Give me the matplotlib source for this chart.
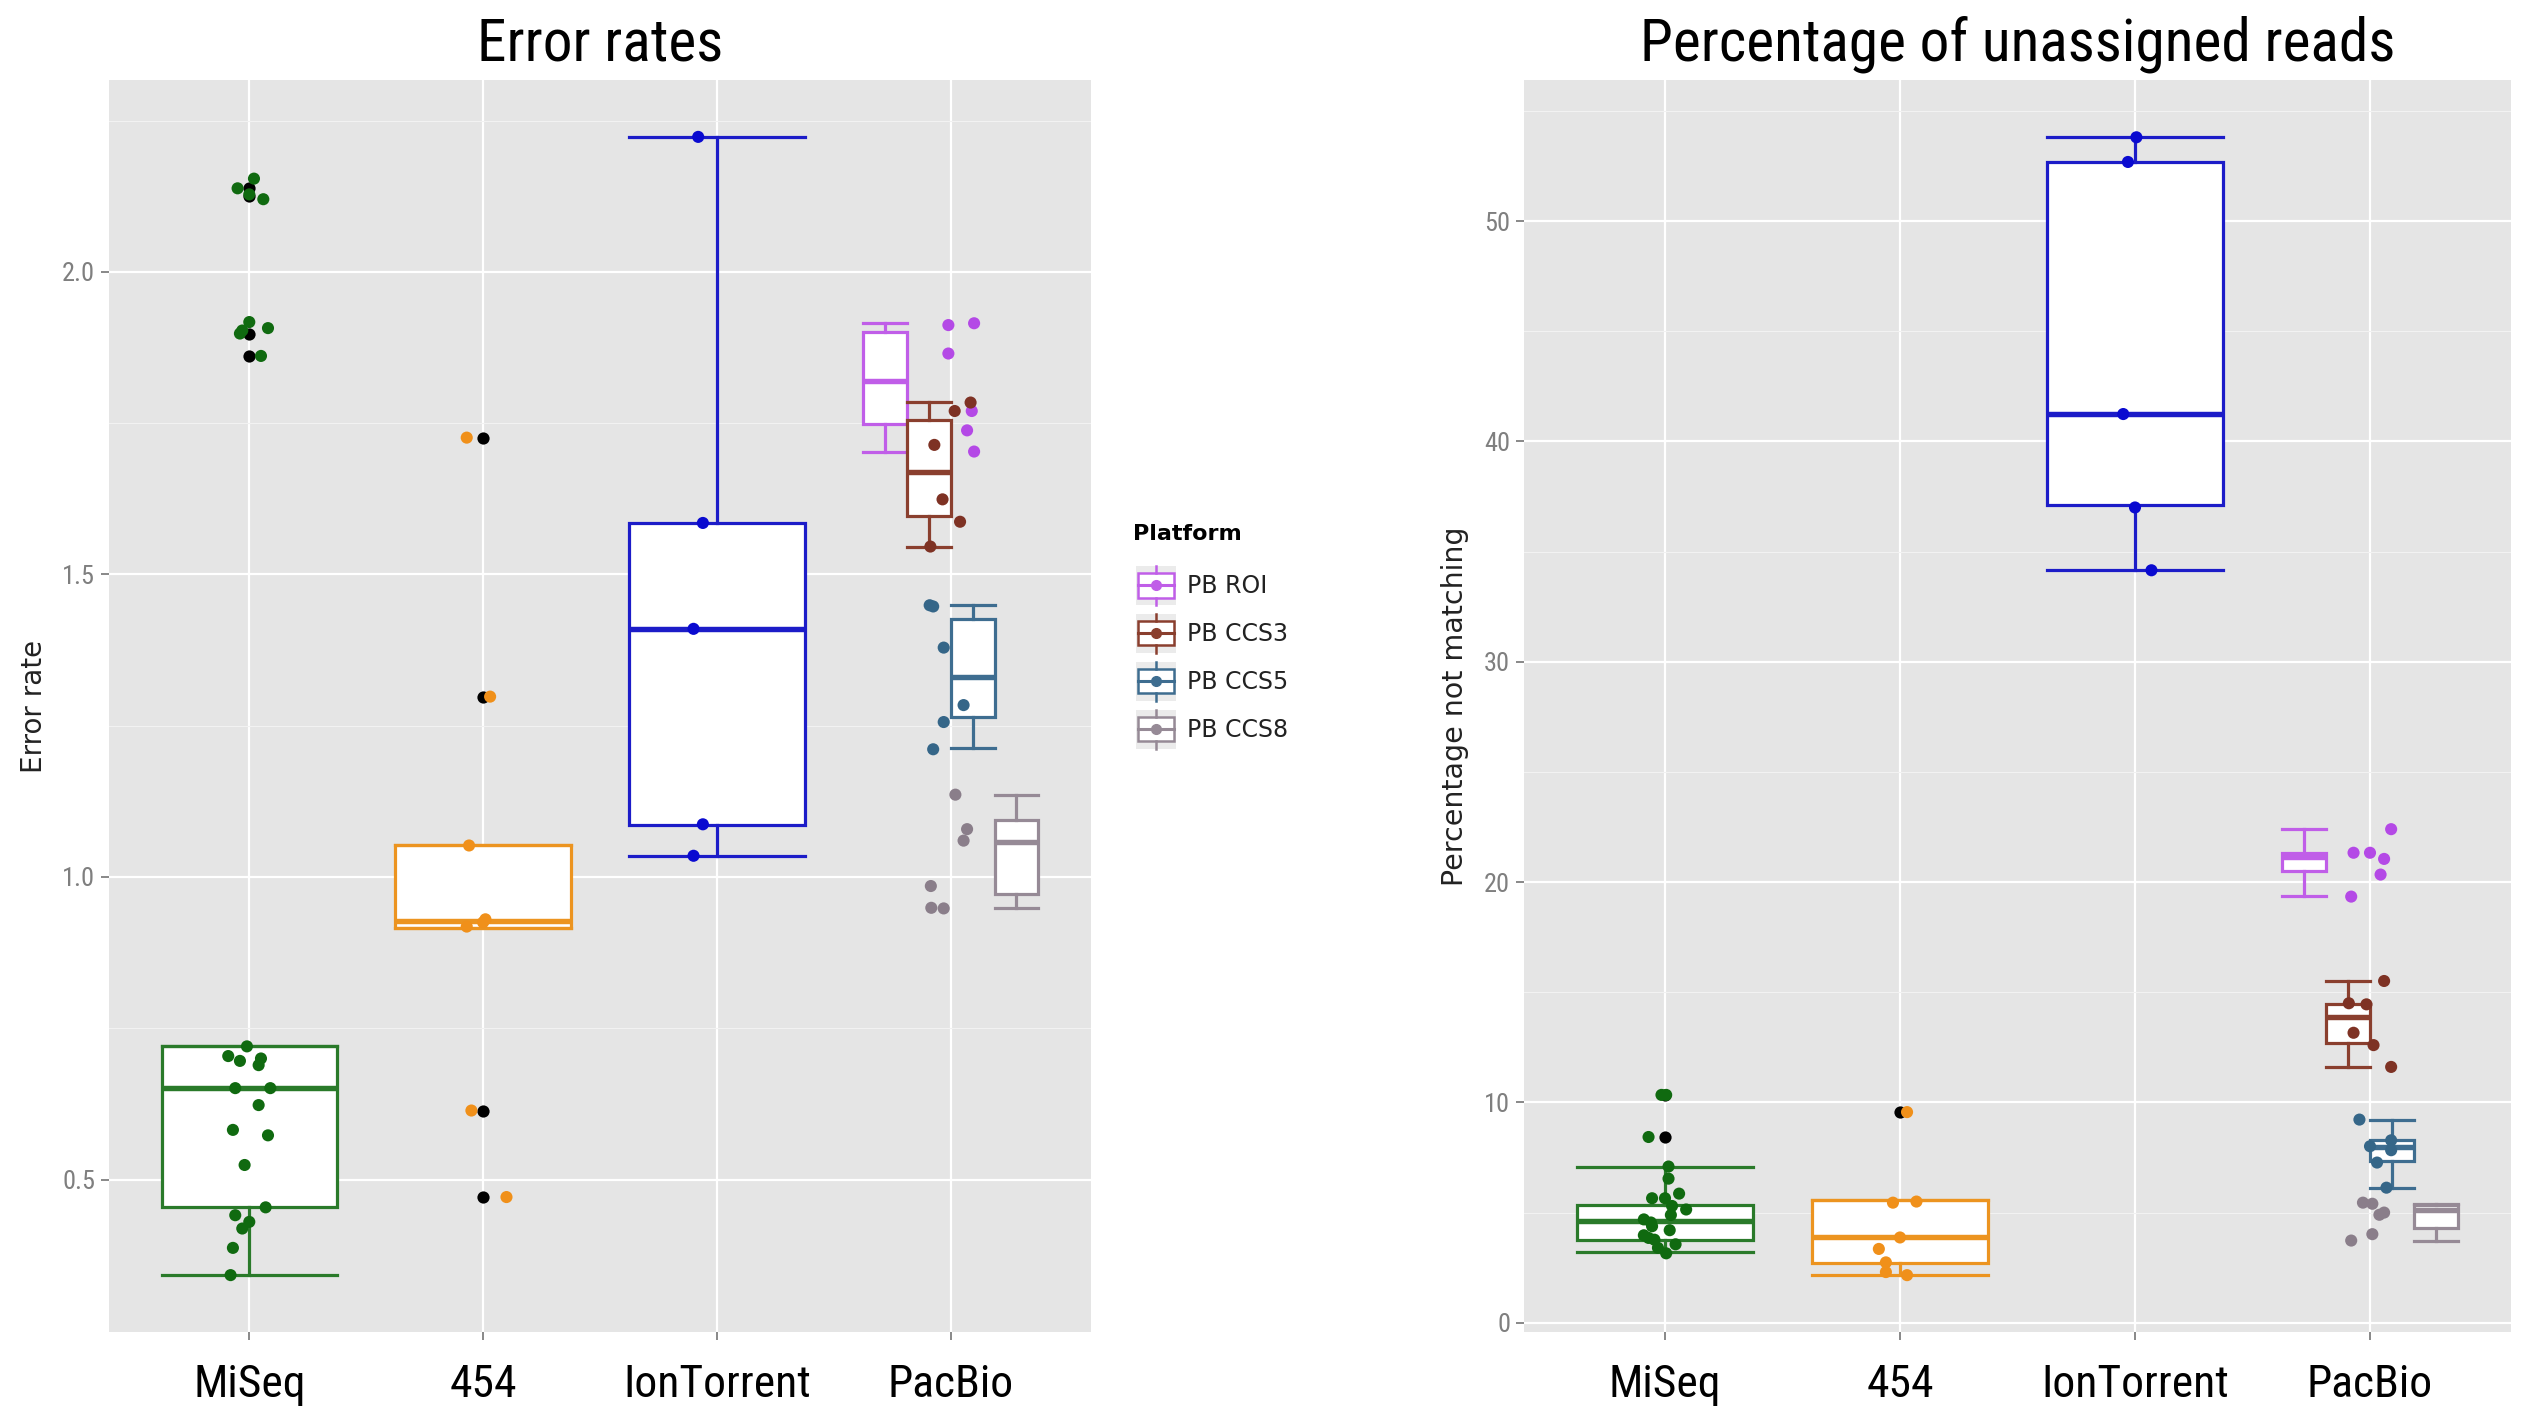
import numpy as np
import matplotlib.pyplot as plt
from matplotlib import font_manager as fm
from matplotlib.patches import Rectangle, Patch
from matplotlib.lines import Line2D
from matplotlib.legend_handler import HandlerBase

categories = ['MiSeq', '454', 'IonTorrent', 'PacBio']
pb_labels = ['PB ROI', 'PB CCS3', 'PB CCS5', 'PB CCS8']

# box stats: whisker low, q1, median, q3, whisker high
err_miseq_box = [0.343, 0.455, 0.651, 0.720, 0.720]
err_454_box = [0.915, 0.915, 0.927, 1.052, 1.052]
err_ion_box = [1.035, 1.086, 1.410, 1.585, 2.223]
err_pb_box = [
    [1.703, 1.748, 1.820, 1.900, 1.916],
    [1.546, 1.597, 1.670, 1.755, 1.785],
    [1.213, 1.264, 1.331, 1.427, 1.449],
    [0.949, 0.972, 1.057, 1.094, 1.136],
]
err_miseq_out = [2.138, 2.125, 1.898, 1.861]
err_454_out = [1.726, 1.298, 0.614, 0.471]

# jittered points (value, horizontal jitter)
err_miseq_pts = [2.154, 2.138, 2.128, 2.120, 1.917, 1.907, 1.903, 1.898, 1.861,
                 0.720, 0.704, 0.696, 0.689, 0.700, 0.651, 0.651, 0.623, 0.582,
                 0.573, 0.524, 0.454, 0.441, 0.430, 0.419, 0.387, 0.342]
err_miseq_jit = [0.02, -0.05, 0.0, 0.06, 0.0, 0.08, -0.03, -0.04, 0.05,
                 -0.01, -0.09, -0.04, 0.04, 0.05, -0.06, 0.09, 0.04, -0.07,
                 0.08, -0.02, 0.07, -0.06, 0.0, -0.03, -0.07, -0.08]
err_454_pts = [1.726, 1.298, 1.052, 0.930, 0.925, 0.918, 0.614, 0.471]
err_454_jit = [-0.07, 0.03, -0.06, 0.01, 0.0, -0.07, -0.05, 0.10]
err_ion_pts = [2.223, 1.585, 1.410, 1.087, 1.035]
err_ion_jit = [-0.08, -0.06, -0.10, -0.06, -0.10]
err_pb_pts = [
    [1.912, 1.915, 1.865, 1.770, 1.738, 1.703],
    [1.784, 1.770, 1.714, 1.624, 1.587, 1.546],
    [1.449, 1.447, 1.379, 1.284, 1.256, 1.211],
    [1.136, 1.079, 1.060, 0.985, 0.949, 0.948],
]
err_pb_jit = [
    [-0.01, 0.10, -0.01, 0.09, 0.07, 0.10],
    [0.085, 0.017, -0.07, -0.035, 0.04, -0.087],
    [-0.09, -0.075, -0.03, 0.055, -0.03, -0.075],
    [0.02, 0.07, 0.055, -0.085, -0.083, -0.03],
]

pct_miseq_box = [3.21, 3.77, 4.63, 5.35, 7.09]
pct_454_box = [2.16, 2.69, 3.87, 5.55, 5.55]
pct_ion_box = [34.15, 37.09, 41.24, 52.68, 53.80]
pct_pb_box = [
    [19.38, 20.51, 21.13, 21.33, 22.40],
    [11.61, 12.70, 13.87, 14.45, 15.51],
    [6.13, 7.36, 7.98, 8.28, 9.21],
    [3.70, 4.28, 5.10, 5.35, 5.40],
]
pct_miseq_out = [10.34, 8.43]
pct_454_out = [9.56]

pct_miseq_pts = [10.34, 10.34, 8.43, 7.09, 6.54, 5.86, 5.65, 5.65, 5.30, 5.14, 4.89,
                 4.69, 4.55, 4.38, 4.20, 3.97, 3.85, 3.77, 3.56, 3.40, 3.15]
pct_miseq_jit = [-0.015, 0.005, -0.07, 0.015, 0.015, 0.06, -0.055, 0.0, 0.03, 0.09, 0.025,
                 -0.09, -0.06, -0.055, 0.02, -0.09, -0.07, -0.045, 0.045, -0.03, 0.005]
pct_454_pts = [9.56, 5.45, 5.50, 3.87, 3.35, 2.74, 2.30, 2.16]
pct_454_jit = [0.03, -0.03, 0.07, 0.0, -0.09, -0.06, -0.06, 0.03]
pct_ion_pts = [53.80, 52.68, 41.24, 37.00, 34.15]
pct_ion_jit = [0.006, -0.03, -0.05, 0.0, 0.07]
pct_pb_pts = [
    [22.40, 21.33, 21.33, 21.05, 20.34, 19.34],
    [15.51, 14.50, 14.45, 13.16, 12.60, 11.61],
    [9.22, 8.28, 8.01, 7.83, 7.27, 6.13],
    [5.45, 5.40, 5.00, 4.90, 4.02, 3.73],
]
pct_pb_jit = [
    [0.09, -0.07, 0.0, 0.06, 0.045, -0.08],
    [0.06, -0.09, -0.015, -0.07, 0.015, 0.09],
    [-0.045, 0.09, 0.0, 0.09, 0.03, 0.07],
    [-0.03, 0.01, 0.06, 0.04, 0.01, -0.08],
]

main_box_colors = ['#2a7a2a', '#ec9420', '#1c1cc8']
main_pt_colors = ['#106a10', '#f0901a', '#0a0ad0']
pb_box_colors = ['#c05ee8', '#8a3f2e', '#3e6d90', '#968a96']
pb_pt_colors = ['#b449e6', '#7e3224', '#356688', '#8a7e8a']


def pick_condensed():
    # the reference uses a condensed sans; take one if the system has it
    prefs = ['Liberation Sans Narrow', 'Roboto Condensed', 'Open Sans Condensed',
             'Noto Sans Condensed', 'DejaVu Sans Condensed', 'Arial Narrow']
    found = []
    for f in fm.fontManager.ttflist:
        if f.style != 'normal' or f.weight not in (400, 'normal', 'regular'):
            continue
        fn = f.fname.lower()
        if f.stretch in ('condensed', 'semi-condensed', 'extra-condensed') or \
                'narrow' in fn or 'condensed' in fn:
            found.append(f)
    for p in prefs:
        for f in found:
            if f.name == p or p.replace(' ', '').lower() in f.fname.lower().replace('-', ''):
                return fm.FontProperties(fname=f.fname)
    if found:
        return fm.FontProperties(fname=found[0].fname)
    return fm.FontProperties(family='DejaVu Sans')


def fitted(fig, fp, text, target_px):
    p = fp.copy()
    p.set_size(40)
    t = fig.text(0, 0, text, fontproperties=p)
    w = t.get_window_extent(fig.canvas.get_renderer()).width
    t.remove()
    p = fp.copy()
    p.set_size(40 * target_px / w)
    return p


def draw_box(ax, vals, pos, width, color, outliers=()):
    lo, q1, med, q3, hi = vals
    st = dict(whislo=lo, q1=q1, med=med, q3=q3, whishi=hi, fliers=list(outliers))
    ax.bxp([st], positions=[pos], widths=[width], capwidths=[width],
           patch_artist=True, manage_ticks=False, zorder=3,
           boxprops=dict(facecolor='white', edgecolor=color, linewidth=2.3),
           medianprops=dict(color=color, linewidth=3.9),
           whiskerprops=dict(color=color, linewidth=2.3),
           capprops=dict(color=color, linewidth=2.3),
           flierprops=dict(marker='o', markerfacecolor='black',
                           markeredgecolor='none', markersize=8.8))


def draw_panel(ax, main_box, main_out, main_pts, main_jit, pb_box, pb_pts, pb_jit):
    for i in range(3):
        draw_box(ax, main_box[i], i + 1, 0.75, main_box_colors[i], main_out[i])
    for i in range(3):
        ax.scatter(i + 1 + np.array(main_jit[i]), main_pts[i], s=76,
                   color=main_pt_colors[i], edgecolors='none', zorder=5)
    n = len(pb_box)
    w = 0.75 / n
    for j in range(n):
        pos = 4 - 0.375 + w * (j + 0.5)
        draw_box(ax, pb_box[j], pos, w, pb_box_colors[j])
    for j in range(n):
        ax.scatter(4 + np.array(pb_jit[j]), pb_pts[j], s=76,
                   color=pb_pt_colors[j], edgecolors='none', zorder=5)


def style_axes(ax, ylim, major, minor, fmt, xfp, yfp):
    ax.set_facecolor('#e5e5e5')
    ax.set_xlim(0.4, 4.6)
    ax.set_ylim(*ylim)
    ax.set_xticks(range(1, 5))
    ax.set_xticklabels(categories, fontproperties=xfp)
    ax.set_yticks(major)
    ax.set_yticklabels([fmt.format(v) for v in major], fontproperties=yfp,
                       color='#7f7f7f')
    ax.set_yticks(minor, minor=True)
    ax.grid(which='major', color='white', linewidth=1.6)
    ax.grid(which='minor', axis='y', color='#f2f2f2', linewidth=0.8)
    ax.set_axisbelow(True)
    for s in ax.spines.values():
        s.set_visible(False)
    ax.tick_params(axis='both', which='major', color='#7f7f7f', length=6, width=1.3)
    ax.tick_params(axis='y', which='minor', length=0)
    ax.tick_params(axis='y', pad=4)
    ax.tick_params(axis='x', pad=17)


class BoxKey(HandlerBase):
    def create_artists(self, legend, orig_handle, xdescent, ydescent,
                       width, height, fontsize, trans):
        c = orig_handle.get_edgecolor()
        x0, y0 = -xdescent, -ydescent
        xc, yc = x0 + width / 2, y0 + height / 2
        bg = Rectangle((x0, y0), width, height, facecolor='#ebebeb',
                       edgecolor='none', transform=trans)
        bx = Rectangle((x0 + width * 0.05, y0 + height * 0.19), width * 0.9,
                       height * 0.62, facecolor='white', edgecolor=c,
                       linewidth=1.8, transform=trans)
        med = Line2D([x0 + width * 0.05, x0 + width * 0.95], [yc, yc],
                     color=c, linewidth=2.2, transform=trans)
        w1 = Line2D([xc, xc], [y0, y0 + height * 0.19], color=c, linewidth=1.8, transform=trans)
        w2 = Line2D([xc, xc], [y0 + height * 0.81, y0 + height], color=c, linewidth=1.8, transform=trans)
        dot = Line2D([xc], [yc], marker='o', color=c, markersize=7, transform=trans)
        return [bg, bx, med, w1, w2, dot]


fig = plt.figure(figsize=(25.23, 14.10), dpi=100)
ax1 = fig.add_axes([109 / 2523, 78 / 1410, 982 / 2523, 1252 / 1410])
ax2 = fig.add_axes([1524 / 2523, 78 / 1410, 987 / 2523, 1252 / 1410])

cond = pick_condensed()
title_fp = fitted(fig, cond, 'Percentage of unassigned reads', 756)
xtick_fp = fitted(fig, cond, 'IonTorrent', 187)
ytick_fp = fitted(fig, cond, '2.0', 33)

draw_panel(ax1, [err_miseq_box, err_454_box, err_ion_box],
           [err_miseq_out, err_454_out, []],
           [err_miseq_pts, err_454_pts, err_ion_pts],
           [err_miseq_jit, err_454_jit, err_ion_jit],
           err_pb_box, err_pb_pts, err_pb_jit)
style_axes(ax1, (0.248, 2.317), [0.5, 1.0, 1.5, 2.0], [0.75, 1.25, 1.75, 2.25],
           '{:.1f}', xtick_fp, ytick_fp)
ax1.set_title('Error rates', fontproperties=title_fp, pad=14)
ax1.set_ylabel('Error rate', fontsize=20, color='#222222')
ax1.yaxis.set_label_coords(-0.062, 0.5)

draw_panel(ax2, [pct_miseq_box, pct_454_box, pct_ion_box],
           [pct_miseq_out, pct_454_out, []],
           [pct_miseq_pts, pct_454_pts, pct_ion_pts],
           [pct_miseq_jit, pct_454_jit, pct_ion_jit],
           pct_pb_box, pct_pb_pts, pct_pb_jit)
style_axes(ax2, (-0.42, 56.4), [0, 10, 20, 30, 40, 50], [5, 15, 25, 35, 45, 55],
           '{:d}', xtick_fp, ytick_fp)
ax2.set_title('Percentage of unassigned reads', fontproperties=title_fp, pad=14)
ax2.set_ylabel('Percentage not matching', fontsize=20.5, color='#222222')
ax2.yaxis.set_label_coords(-0.056, 0.5)

fig.text(1133 / 2523, 1 - 534 / 1410, 'Platform', fontsize=16, fontweight='bold',
         va='center', ha='left')
handles = [Patch(facecolor='white', edgecolor=c, label=l)
           for c, l in zip(pb_box_colors, pb_labels)]
leg = fig.legend(handles=handles, handler_map={Patch: BoxKey()},
                 loc='upper left', bbox_to_anchor=(1136 / 2523, 1 - 566 / 1410),
                 frameon=False, fontsize=17, handlelength=1.7, handleheight=2.16,
                 labelspacing=0.38, handletextpad=0.45, borderpad=0,
                 borderaxespad=0)
for t in leg.get_texts():
    t.set_color('#222222')

fig.savefig('out.png', dpi=100)
